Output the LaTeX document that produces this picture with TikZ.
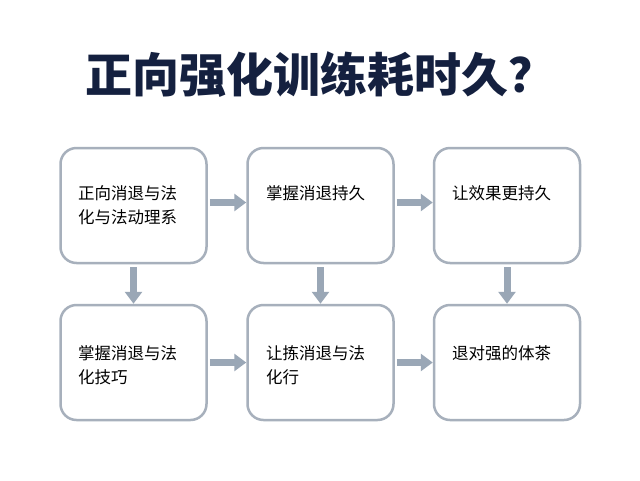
\documentclass[tikz,border=0pt]{standalone}
\usepackage{fontspec}
\newfontfamily\cjk{Noto Sans CJK SC}
\usetikzlibrary{arrows.meta}
\definecolor{titleblue}{HTML}{14203F}
\definecolor{boxline}{HTML}{A7B0BC}
\definecolor{arrowgray}{HTML}{9AA7B6}
\tikzset{
  stage/.style={draw=boxline,line width=2.5pt,rounded corners=16pt,fill=white,minimum width=146pt,minimum height=115pt},
  stagetext/.style={anchor=north west,align=left,text width=132pt,inner sep=0pt,font=\cjk\fontsize{16.5}{24}\selectfont},
  flow/.style={draw=arrowgray,line width=7pt,-{Triangle[width=17pt,length=12pt]}}
}
\begin{document}
\begin{tikzpicture}[x=1pt,y=-1pt]
			\useasboundingbox[fill=white] (0,0) rectangle (640,480);
			\node[font=\cjk\bfseries\fontsize{47}{47}\selectfont,text=titleblue] (title) at (320,75) {正向强化训练耗时久？};
			\node[stage] (b1) at (133.5,205.5) {};
			\node[stage] (b2) at (320.5,205.5) {};
			\node[stage] (b3) at (507,205.5) {};
			\node[stage] (b4) at (133.5,362.5) {};
			\node[stage] (b5) at (320.5,362.5) {};
			\node[stage] (b6) at (507,362.5) {};
			\node[stagetext] (t1) at (78,185) {正向消退与法\\化与法动理系};
			\node[stagetext] (t2) at (266,185) {掌握消退持久};
			\node[stagetext] (t3) at (452,185) {让效果更持久};
			\node[stagetext] (t4) at (78,345) {掌握消退与法\\化技巧};
			\node[stagetext] (t5) at (266,345) {让拣消退与法\\化行};
			\node[stagetext] (t6) at (452,345) {退对强的体茶};
			\draw[flow] (b1.east) ++(2,-3) coordinate (a1) -- (a1 -| b2.west);
			\draw[flow] (b2.east) ++(2,-3) coordinate (a2) -- (a2 -| b3.west);
			\draw[flow] (b4.east) ++(2,0) coordinate (a4) -- (a4 -| b5.west);
			\draw[flow] (b5.east) ++(2,0) coordinate (a5) -- (a5 -| b6.west);
			\draw[flow] (b1.south) ++(0,3) -- (b4.north);
			\draw[flow] (b2.south) ++(0,3) -- (b5.north);
			\draw[flow] (b3.south) ++(0,3) -- (b6.north);
		\end{tikzpicture}
\end{document}
